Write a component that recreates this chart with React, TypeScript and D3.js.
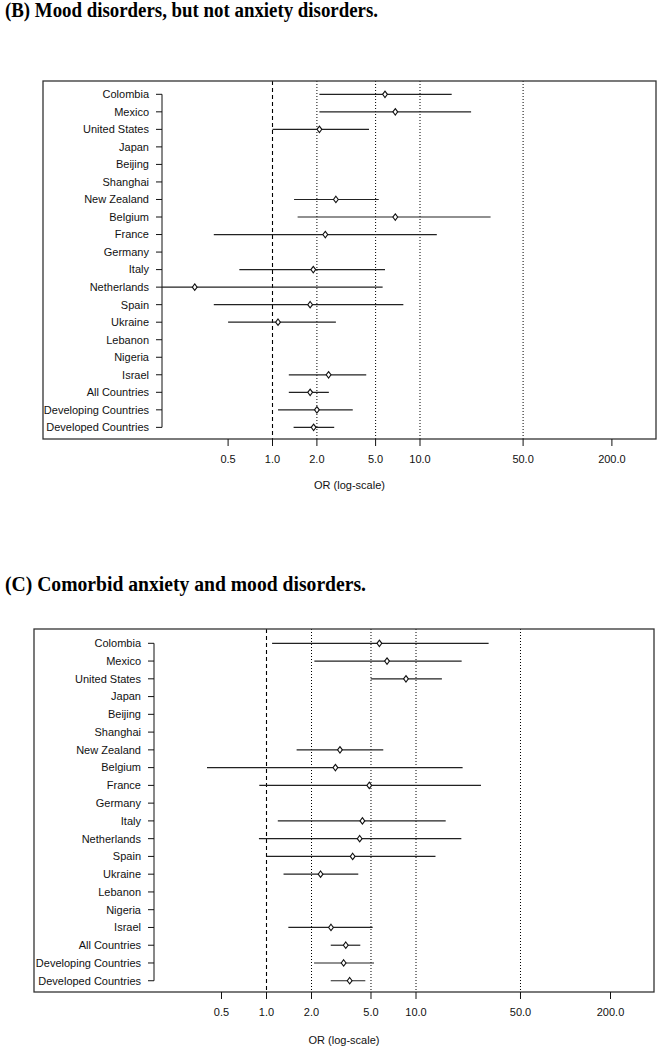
import React from "react";
import * as d3 from "d3";

const countries = [
  "Colombia", "Mexico", "United States", "Japan", "Beijing", "Shanghai",
  "New Zealand", "Belgium", "France", "Germany", "Italy", "Netherlands",
  "Spain", "Ukraine", "Lebanon", "Nigeria", "Israel", "All Countries",
  "Developing Countries", "Developed Countries",
];

// Panel B: Mood disorders, but not anxiety disorders
const bEst = [5.79, 6.8, 2.08, null, null, null, 2.69, 6.8, 2.28, null, 1.89, 0.297, 1.8, 1.09, null, null, 2.4, 1.8, 2.0, 1.9];
const bLo = [2.08, 2.08, 1.0, null, null, null, 1.4, 1.48, 0.4, null, 0.596, 0.15, 0.4, 0.5, null, null, 1.29, 1.29, 1.09, 1.39];
const bHi = [16.4, 22.2, 4.51, null, null, null, 5.25, 30.1, 13.0, null, 5.79, 5.58, 7.71, 2.69, null, null, 4.32, 2.41, 3.5, 2.62];

// Panel C: Comorbid anxiety and mood disorders
const cEst = [5.69, 6.4, 8.57, null, null, null, 3.1, 2.89, 4.87, null, 4.38, 4.2, 3.77, 2.3, null, null, 2.7, 3.39, 3.28, 3.6];
const cLo = [1.09, 2.09, 4.98, null, null, null, 1.59, 0.4, 0.895, null, 1.19, 0.89, 1.0, 1.3, null, null, 1.4, 2.69, 2.08, 2.69];
const cHi = [30.6, 20.2, 14.9, null, null, null, 6.04, 20.5, 27.2, null, 15.8, 20.1, 13.5, 4.11, null, null, 5.13, 4.24, 5.24, 4.58];

const tickValues = [0.5, 1, 2, 5, 10, 50, 200];
const tickLabels = ["0.5", "1.0", "2.0", "5.0", "10.0", "50.0", "200.0"];
const dashedRef = [1];
const dottedRefs = [2, 5, 10, 50];

const titleB = "(B) Mood disorders, but not anxiety disorders.";
const titleC = "(C) Comorbid anxiety and mood disorders.";
const xTitle = "OR (log-scale)";

type Layout = {
  id: string;
  title: string;
  titleY: number;
  titleW: number;
  x0: number; y0: number; x1: number; y1: number;
  axisX: number;
  row0: number; rowStep: number;
  onePx: number; decade: number;
  tickLabelY: number; xlabelY: number;
};

const sans = "'Liberation Sans', Arial, Helvetica, sans-serif";
const serif = "'Liberation Serif', 'Times New Roman', Times, serif";

function Panel({ L, est, lo, hi }: { L: Layout; est: (number | null)[]; lo: (number | null)[]; hi: (number | null)[] }) {
  const x = d3.scaleLog().domain([1, 10]).range([L.onePx, L.onePx + L.decade]);
  const y = d3.scalePoint<string>().domain(countries).range([L.row0, L.row0 + L.rowStep * (countries.length - 1)]).padding(0);
  const diamond = (cx: number, cy: number) =>
    `M${cx},${cy - 3.2}L${cx + 2.4},${cy}L${cx},${cy + 3.2}L${cx - 2.4},${cy}Z`;
  const clipId = `clip-${L.id}`;
  return (
    <g>
      <text x={5} y={L.titleY} fontFamily={serif} fontWeight="bold" fontSize={20} fill="#000"
        textLength={L.titleW} lengthAdjust="spacingAndGlyphs">{L.title}</text>
      <defs>
        <clipPath id={clipId}>
          <rect x={L.axisX} y={L.y0} width={L.x1 - L.axisX} height={L.y1 - L.y0} />
        </clipPath>
      </defs>
      {dashedRef.map((v) => (
        <line key={"d" + v} x1={x(v)} x2={x(v)} y1={L.y0} y2={L.y1} stroke="#000" strokeWidth={1.1} strokeDasharray="4,3" />
      ))}
      {dottedRefs.map((v) => (
        <line key={"t" + v} x1={x(v)} x2={x(v)} y1={L.y0} y2={L.y1} stroke="#000" strokeWidth={1} strokeDasharray="1,2" />
      ))}
      <rect x={L.x0} y={L.y0} width={L.x1 - L.x0} height={L.y1 - L.y0} fill="none" stroke="#333" strokeWidth={1.3} />
      <line x1={L.axisX} x2={L.axisX} y1={y(countries[0])} y2={y(countries[countries.length - 1])} stroke="#111" strokeWidth={1} />
      {countries.map((c) => (
        <g key={c}>
          <line x1={L.axisX - 6} x2={L.axisX} y1={y(c)} y2={y(c)} stroke="#111" strokeWidth={1} />
          <text x={L.axisX - 13} y={y(c)} dy="0.35em" textAnchor="end" fontFamily={sans} fontSize={11} fill="#111">{c}</text>
        </g>
      ))}
      <g clipPath={`url(#${clipId})`}>
        {countries.map((c, i) => {
          const l = lo[i], h = hi[i], e = est[i];
          if (l == null || h == null || e == null) return null;
          const yy = y(c) as number;
          return (
            <g key={c}>
              <line x1={x(l)} x2={x(h)} y1={yy} y2={yy} stroke="#222" strokeWidth={1.2} />
              <path d={diamond(x(e), yy)} fill="#fff" stroke="#111" strokeWidth={1.1} />
            </g>
          );
        })}
      </g>
      {tickValues.map((v, i) => (
        <g key={v}>
          <line x1={x(v)} x2={x(v)} y1={L.y1} y2={L.y1 + 7} stroke="#111" strokeWidth={1} />
          <text x={x(v)} y={L.tickLabelY} dy="0.35em" textAnchor="middle" fontFamily={sans} fontSize={11} fill="#111">{tickLabels[i]}</text>
        </g>
      ))}
      <text x={(L.x0 + L.x1) / 2} y={L.xlabelY} dy="0.35em" textAnchor="middle" fontFamily={sans} fontSize={11} fill="#111">{xTitle}</text>
    </g>
  );
}

const layoutB: Layout = {
  id: "b", title: titleB, titleY: 17, titleW: 373,
  x0: 43, y0: 81, x1: 656, y1: 439,
  axisX: 162, row0: 94.3, rowStep: 17.53,
  onePx: 272.5, decade: 147.5,
  tickLabelY: 459, xlabelY: 485,
};

const layoutC: Layout = {
  id: "c", title: titleC, titleY: 591, titleW: 361,
  x0: 34, y0: 629, x1: 654, y1: 992,
  axisX: 154, row0: 643.3, rowStep: 17.76,
  onePx: 266.5, decade: 149.5,
  tickLabelY: 1012, xlabelY: 1040,
};

export default function App() {
  return (
    <svg width={662} height={1050} style={{ position: "absolute", left: 0, top: 0, background: "#fff" }}>
      <rect width={662} height={1050} fill="#fff" />
      <Panel L={layoutB} est={bEst} lo={bLo} hi={bHi} />
      <Panel L={layoutC} est={cEst} lo={cLo} hi={cHi} />
    </svg>
  );
}
